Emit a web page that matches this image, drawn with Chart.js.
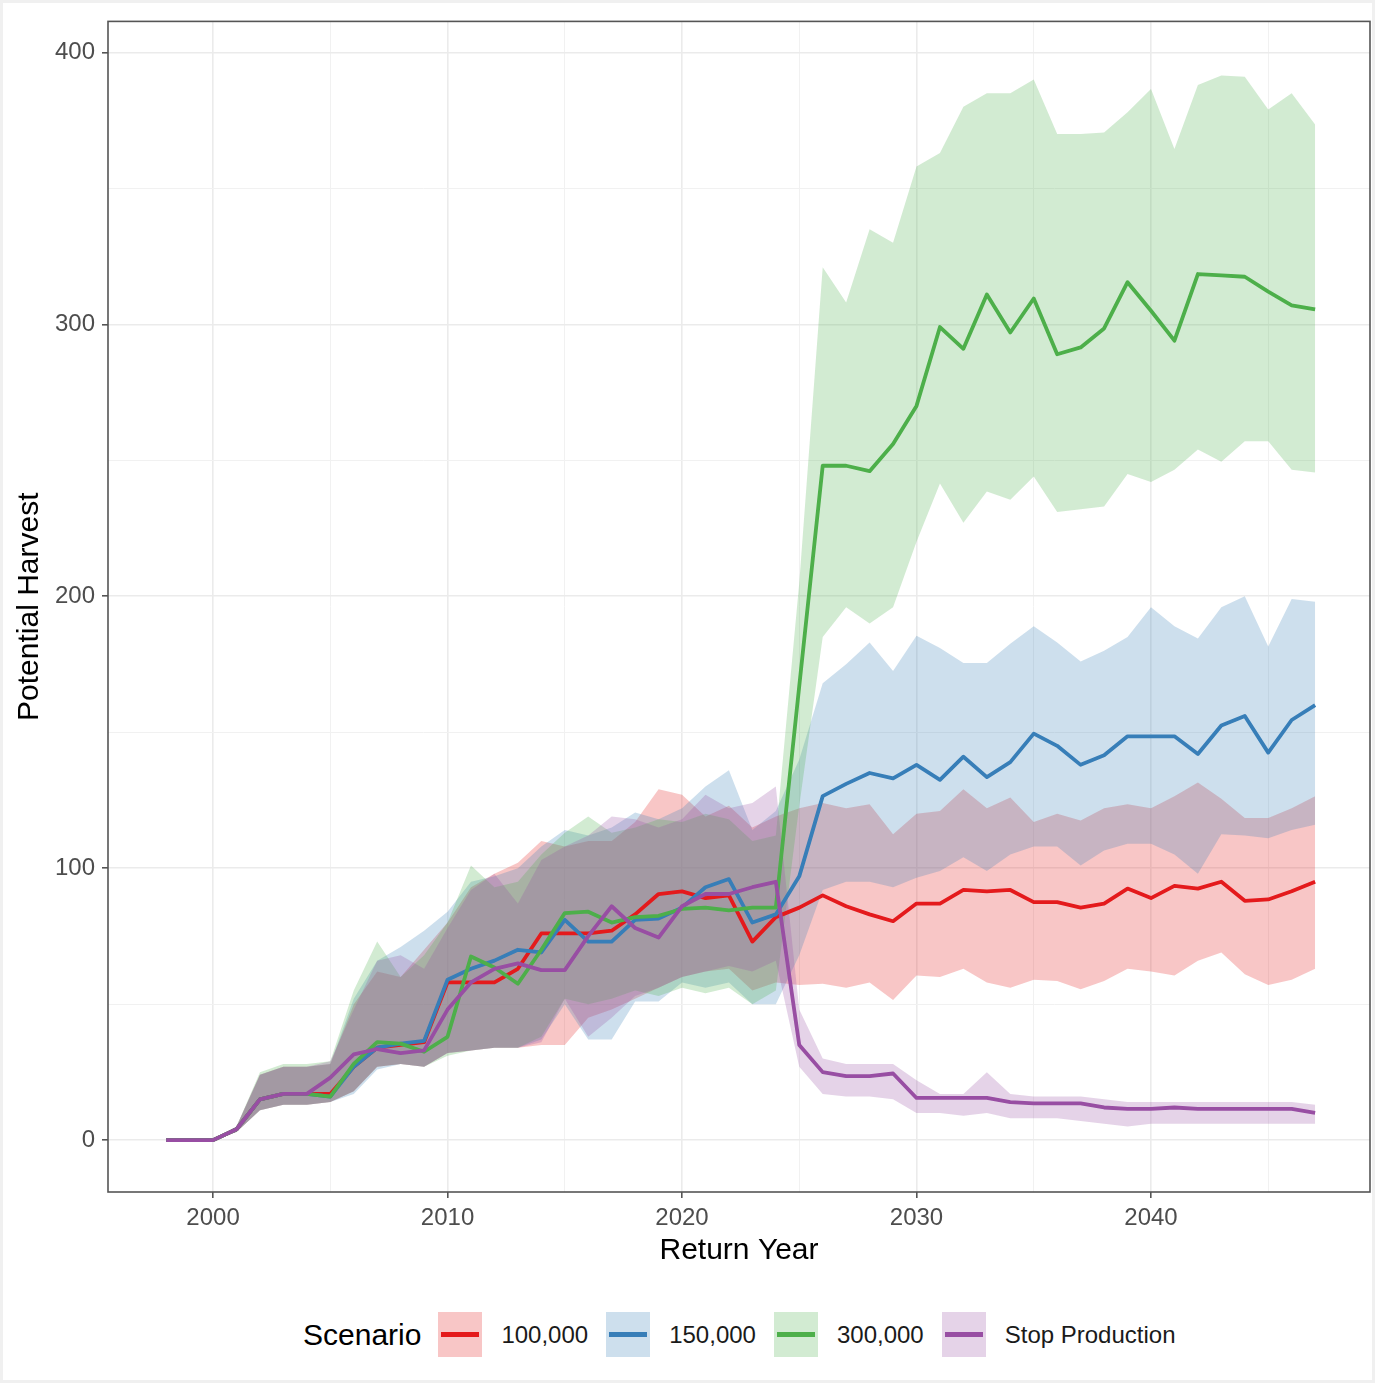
<!DOCTYPE html>
<html>
<head>
<meta charset="utf-8">
<title>Potential Harvest by Scenario</title>
<script src="https://cdn.jsdelivr.net/npm/chart.js@4.4.1/dist/chart.umd.min.js"></script>
<style>
  html, body { margin: 0; padding: 0; }
  body {
    width: 1375px; height: 1383px; position: relative; overflow: hidden;
    background: #f0f0f0;
    font-family: "Liberation Sans", Arial, sans-serif;
  }
  #panel { position: absolute; left: 3px; top: 3px; right: 3px; bottom: 3px; background: #fff; }
  #chart { position: absolute; left: 0; top: 0; }
  #legend {
    position: absolute; top: 1312px; left: 303px; height: 45px;
    display: flex; align-items: center; color: #000;
  }
  #legend .title { font-size: 30px; margin-right: 17px; }
  #legend .key { position: relative; width: 44px; height: 45px; margin-right: 19px; }
  #legend .key span { position: absolute; left: 3px; right: 3px; top: 20px; height: 5px; }
  #legend .lab { font-size: 24px; margin-right: 18px; color: #1a1a1a; }
</style>
</head>
<body>
<div id="panel"></div>
<canvas id="chart" width="1375" height="1280"></canvas>
<div id="legend"></div>

<script>
const years = [1998, 1999, 2000, 2001, 2002, 2003, 2004, 2005, 2006, 2007,
               2008, 2009, 2010, 2011, 2012, 2013, 2014, 2015, 2016, 2017,
               2018, 2019, 2020, 2021, 2022, 2023, 2024, 2025, 2026, 2027,
               2028, 2029, 2030, 2031, 2032, 2033, 2034, 2035, 2036, 2037,
               2038, 2039, 2040, 2041, 2042, 2043, 2044, 2045, 2046, 2047];

const scenarios = ['100,000', '150,000', '300,000', 'Stop Production'];
const colors = ['#E41A1C', '#377EB8', '#4DAF4A', '#984EA3'];
const fills = ['rgba(228,26,28,0.25)', 'rgba(55,126,184,0.25)', 'rgba(77,175,74,0.25)', 'rgba(152,78,163,0.25)'];

// 100,000
const mean100k = [0, 0, 0, 4, 15, 17, 17, 17, 27, 34, 35, 36, 58, 58, 58, 63, 76, 76, 76, 77,
                  83, 90.5, 91.5, 89, 90, 73, 82, 85.5, 90, 86, 83, 80.5, 87, 87, 92, 91.5, 92, 87.5, 87.5, 85.5,
                  87, 92.5, 89, 93.5, 92.5, 95, 88, 88.5, 91.5, 95];
const lo100k = [0, 0, 0, 3, 11, 13, 13, 14, 18, 27, 28, 27, 32, 33, 34, 34, 35, 35, 45, 48,
                52, 56, 60, 62, 63, 55, 58, 57, 57.5, 56, 58, 51.5, 60.5, 60, 63, 58, 56, 59, 58.5, 55.5,
                58.5, 63, 62, 60.5, 66, 69, 61, 57, 59, 63];
const hi100k = [0, 0, 0, 5, 24, 27, 27, 28, 50, 62, 60, 70, 80, 93, 98, 102, 110, 108, 110, 110,
                117, 129, 127, 119, 123, 115, 119, 122, 124, 122, 123.5, 112.5, 120, 121, 129, 122, 126, 117, 120, 117.5,
                122, 123.5, 122, 126.5, 131.5, 125.5, 118.5, 118.5, 122, 126.5];

// 150,000
const mean150k = [0, 0, 0, 4, 15, 17, 17, 16, 27, 34, 35.5, 36.5, 59, 63, 66, 70, 69, 81, 73, 73,
                  81, 81.5, 85.5, 93, 96, 80, 83, 97, 126.5, 131, 135, 133, 138, 132.5, 141, 133.5, 139, 149.5, 145, 138,
                  141.5, 148.5, 148.5, 148.5, 142, 152.5, 156, 142.5, 154.5, 160];
const lo150k = [0, 0, 0, 3, 11, 13, 13, 14, 17, 26, 28, 27, 32, 33, 34, 34, 37, 50, 37, 37,
                51, 51, 58, 56, 58, 50, 50, 68, 92, 95, 95, 93, 96.5, 99, 104, 99, 105, 108, 108, 101,
                106.5, 109, 109, 105, 98, 112.5, 112, 111, 114, 116];
const hi150k = [0, 0, 0, 5, 24, 27, 27, 28, 52, 66, 71, 77, 84, 95, 97, 100, 108, 114, 112, 115,
                120.5, 118, 122, 130, 136, 114, 121, 140, 168, 175, 183, 172.5, 185.5, 181, 175.5, 175.5, 182.5, 189, 183, 176,
                180, 185, 196, 189, 184.5, 196, 200, 181.5, 199, 198];

// 300,000
const mean300k = [0, 0, 0, 4, 15, 17, 17, 16, 28, 36, 35.5, 32.5, 38, 67.5, 63.5, 57.5, 70, 83.5, 84, 80,
                  82, 82.5, 85, 85.5, 84.5, 85.5, 85.5, 167, 248, 248, 246, 256, 270, 299, 291, 311, 297, 309.5, 289, 291.5,
                  298.5, 315.5, 305, 294, 318.5, 318, 317.5, 312, 307, 305.5];
const lo300k = [0, 0, 0, 3, 11, 13, 13, 14, 18, 27, 28, 27, 31, 33, 34, 34, 38, 52, 50, 52,
                55, 53, 56, 54, 56, 50, 55, 123, 185, 196, 190, 196, 220, 241.5, 227, 238.5, 235.5, 244, 231, 232,
                233, 245, 242, 246.5, 254, 249.5, 257, 257, 246.5, 245.5];
const hi300k = [0, 0, 0, 5, 25, 28, 28, 29, 55, 73, 60, 68, 80, 101, 93, 95, 105, 113, 119, 113,
                115, 118, 117, 120, 118, 110, 112, 205, 321, 308, 335, 330, 358, 363, 380, 385, 385, 390, 370, 370,
                370.5, 378, 386.5, 364.5, 388, 391.5, 391, 379, 385, 373.5];

// Stop Production
const meanStop = [0, 0, 0, 4, 15, 17, 17, 23, 31.5, 33.5, 32, 33, 48, 58, 63, 65, 62.5, 62.5, 75, 86,
                  78, 74.5, 86, 90.5, 90.5, 93, 95, 35, 25, 23.5, 23.5, 24.5, 15.5, 15.5, 15.5, 15.5, 14, 13.5, 13.5, 13.5,
                  12, 11.5, 11.5, 12, 11.5, 11.5, 11.5, 11.5, 11.5, 10];
const loStop = [0, 0, 0, 3, 11, 13, 13, 14, 18, 27, 28, 27, 32, 33, 34, 34, 36, 52, 38, 45,
                53, 56, 60, 62, 64, 62, 66, 27, 17, 16, 16, 15, 10, 10, 9, 10, 8, 8, 8, 7,
                6, 5, 6, 6, 6, 6, 6, 6, 6, 6];
const hiStop = [0, 0, 0, 5, 24, 27, 27, 29, 48, 66, 68, 63, 78, 92, 98, 87, 103, 108, 112, 119,
                118, 115, 118, 127, 122, 124, 130, 48, 30, 28, 28, 28, 22, 17, 17, 25, 17, 16, 16, 16,
                15, 14, 14, 14, 14, 14, 14, 14, 14, 13];

const xTicks = [2000, 2010, 2020, 2030, 2040];
const xMinor = [2005, 2015, 2025, 2035, 2045];
const yTicks = [0, 100, 200, 300, 400];
const yMinor = [50, 150, 250, 350];

const means = [mean100k, mean150k, mean300k, meanStop];
const lows = [lo100k, lo150k, lo300k, loStop];
const highs = [hi100k, hi150k, hi300k, hiStop];

function pts(arr) {
  return years.map((yr, i) => ({ x: yr, y: arr[i] }));
}

const datasets = [];
// ribbons: lower edge, then upper edge filled down to it
scenarios.forEach((name, k) => {
  datasets.push({
    label: name + ' low', data: pts(lows[k]), borderColor: 'rgba(0,0,0,0)', borderWidth: 0,
    pointRadius: 0, fill: false, order: 13 - k
  });
  datasets.push({
    label: name + ' high', data: pts(highs[k]), borderColor: 'rgba(0,0,0,0)', borderWidth: 0,
    pointRadius: 0, fill: '-1', backgroundColor: fills[k], order: 13 - k
  });
});
// mean lines on top
scenarios.forEach((name, k) => {
  datasets.push({
    label: name, data: pts(means[k]), borderColor: colors[k], borderWidth: 3.8,
    pointRadius: 0, fill: false, tension: 0, order: 3 - k, borderJoinStyle: 'round'
  });
});

const frame = {
  id: 'frame',
  afterDatasetsDraw(chart) {
    const { ctx, chartArea: a } = chart;
    ctx.save();
    ctx.strokeStyle = '#555';
    ctx.lineWidth = 1.6;
    ctx.strokeRect(a.left, a.top, a.right - a.left, a.bottom - a.top);
    ctx.restore();
  }
};

const tickFont = { family: '"Liberation Sans", Arial, sans-serif', size: 24 };
const titleFont = { family: '"Liberation Sans", Arial, sans-serif', size: 30 };

const ctx = document.getElementById('chart').getContext('2d');
const chart = new Chart(ctx, {
  type: 'line',
  data: { datasets },
  plugins: [frame],
  options: {
    responsive: false,
    animation: false,
    layout: { padding: { left: 0, right: 5, top: 18, bottom: 0 } },
    plugins: { legend: { display: false }, tooltip: { enabled: false } },
    scales: {
      x: {
        type: 'linear',
        min: 1995.52,
        max: 2049.34,
        afterFit: (s) => { s.height = 88; },
        afterBuildTicks: (s) => { s.ticks = xTicks.concat(xMinor).map(v => ({ value: v })); },
        border: { display: false },
        grid: {
          color: c => xTicks.includes(c.tick.value) ? '#EBEBEB' : '#F1F1F1',
          lineWidth: c => xTicks.includes(c.tick.value) ? 1.6 : 1,
          tickColor: c => xTicks.includes(c.tick.value) ? '#555' : 'rgba(0,0,0,0)',
          tickLength: 6,
          tickWidth: 1.6
        },
        ticks: {
          autoSkip: false, maxRotation: 0, padding: 6, color: '#4D4D4D', font: tickFont,
          callback: v => xTicks.includes(v) ? String(v) : ''
        },
        title: { display: true, text: 'Return Year', color: '#000', font: titleFont, padding: { top: 0, bottom: 11 } }
      },
      y: {
        type: 'linear',
        min: -19.08,
        max: 411.4,
        afterFit: (s) => { s.width = 108; },
        afterBuildTicks: (s) => { s.ticks = yTicks.concat(yMinor).map(v => ({ value: v })); },
        border: { display: false },
        grid: {
          color: c => yTicks.includes(c.tick.value) ? '#EBEBEB' : '#F1F1F1',
          lineWidth: c => yTicks.includes(c.tick.value) ? 1.6 : 1,
          tickColor: c => yTicks.includes(c.tick.value) ? '#555' : 'rgba(0,0,0,0)',
          tickLength: 6,
          tickWidth: 1.6
        },
        ticks: {
          autoSkip: false, padding: 7, color: '#4D4D4D', font: tickFont,
          callback: v => yTicks.includes(v) ? String(v) : ''
        },
        title: { display: true, text: 'Potential Harvest', color: '#000', font: titleFont, padding: { top: 12, bottom: 0 } }
      }
    }
  }
});

// legend: ribbon box with line through it, like the ggplot key
const legend = document.getElementById('legend');
legend.innerHTML = '<span class="title">Scenario</span>' + scenarios.map((name, k) =>
  `<div class="key" style="background:${fills[k]}"><span style="background:${colors[k]}"></span></div>` +
  `<span class="lab">${name}</span>`).join('');
</script>
</body>
</html>
